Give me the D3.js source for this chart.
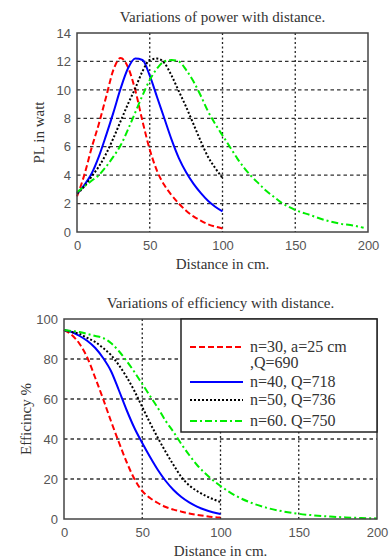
<!DOCTYPE html>
<html>
<head>
<meta charset="utf-8">
<script src="https://cdn.jsdelivr.net/npm/d3@7"></script>
<style>
  body { margin: 0; background: #fff; }
  svg { display: block; }
  .serif { font-family: "Liberation Serif", "DejaVu Serif", serif; fill: #333; }
  .tick text { font-family: "Liberation Sans", Arial, sans-serif; font-size: 13px; fill: #555; }
</style>
</head>
<body>
<svg id="chart" width="389" height="560"></svg>
<script>
// distance values (cm)
var dist100 = [0,5,10,15,20,25,30,35,40,45,50,55,60,65,70,75,80,85,90,95,100];
var dist200 = [0,5,10,15,20,25,30,35,40,45,50,55,60,65,70,75,80,85,90,95,100,
               105,110,115,120,125,130,135,140,145,150,160,170,180,190,197];
var distEff200 = [0,5,10,15,20,25,30,35,40,45,50,55,60,65,70,75,80,85,90,95,100,
                  110,120,130,140,150,160,170,180,190,200];

// power PL in watt
var powerN30 = [2.5,4.0,5.9,7.6,9.5,11.4,12.25,11.6,10.0,7.8,5.8,4.3,3.3,2.6,2.0,1.5,1.1,0.8,0.55,0.38,0.25];
var powerN40 = [2.7,3.3,4.1,5.3,6.8,8.4,10.1,11.5,12.2,12.1,11.0,9.5,8.0,6.5,5.2,4.2,3.4,2.75,2.2,1.78,1.45];
var powerN50 = [2.7,3.2,3.9,4.6,5.5,6.6,7.8,9.0,10.1,11.3,12.1,12.2,11.9,11.0,9.9,8.8,7.6,6.4,5.3,4.5,3.8];
var powerN60 = [2.8,3.2,3.6,4.0,4.6,5.3,6.1,7.2,8.4,9.6,10.7,11.5,12.0,12.1,12.0,11.4,10.6,9.6,8.5,7.6,6.8,
                6.0,5.2,4.5,3.9,3.4,2.9,2.5,2.1,1.8,1.55,1.2,0.85,0.6,0.45,0.3];

// efficiency %
var effN30 = [94.5,92,87.5,80.5,70.5,60,49,38.5,28.5,20,14,10.5,8.0,6.0,4.7,3.7,2.8,2.1,1.5,1.0,0.7];
var effN40 = [94.5,93.5,91.5,89,85.5,80.5,74,64.5,54.5,45.5,38,31,24.5,19,14.5,11,8.3,6.2,4.6,3.4,2.5];
var effN50 = [94.5,93.5,92.5,90.5,88.5,85.5,82,77,71,64,56,48,40.5,33.5,27,21,16.8,14,11.8,10,8.5];
var effN60 = [94.5,94,93.5,92.5,91.5,90.5,88,84,79,73.5,67.5,61.5,55.5,49,43.5,37.5,32,27,23,19.5,16.5,
              11.5,8,5.5,3.8,2.6,1.8,1.2,0.8,0.5,0.3];

var legendLabels = [["n=30, a=25 cm", ",Q=690"], ["n=40, Q=718"], ["n=50, Q=736"], ["n=60. Q=750"]];
var seriesColors = ["#ff0000", "#0000ff", "#000000", "#00ee00"];
var seriesDash = ["6,3", null, "2,2", "7,3,2,3"];

var xTicks = [0,50,100,150,200];
var powerTicks = [0,2,4,6,8,10,12,14];
var effTicks = [0,20,40,60,80,100];

var svg = d3.select("#chart");

function drawPanel(box, yMax, yTicks, series, title, yLabel) {
  var x = d3.scaleLinear().domain([0, 200]).range([box.left, box.right]);
  var y = d3.scaleLinear().domain([0, yMax]).range([box.bottom, box.top]);
  var g = svg.append("g");

  // grid
  g.selectAll(".gx").data(xTicks.slice(1, -1)).enter().append("line")
    .attr("x1", d => x(d)).attr("x2", d => x(d))
    .attr("y1", box.top).attr("y2", box.bottom)
    .style("stroke", "#222").style("stroke-width", 1.3).style("stroke-dasharray", "2,2.5");
  g.selectAll(".gy").data(yTicks.slice(1, -1)).enter().append("line")
    .attr("x1", box.left).attr("x2", box.right)
    .attr("y1", d => y(d)).attr("y2", d => y(d))
    .style("stroke", "#333").style("stroke-width", 1.3).style("stroke-dasharray", "3.5,3");

  // axes
  g.append("g").attr("transform", "translate(0," + box.bottom + ")")
    .call(d3.axisBottom(x).tickValues(xTicks).tickSize(0).tickPadding(9))
    .call(s => s.select(".domain").remove());
  g.append("g").attr("transform", "translate(" + box.left + ",0)")
    .call(d3.axisLeft(y).tickValues(yTicks).tickSize(0).tickPadding(6))
    .call(s => s.select(".domain").remove());

  // curves
  var line = d3.line().x(d => x(d[0])).y(d => y(d[1])).curve(d3.curveMonotoneX);
  series.forEach(function(s, i) {
    g.append("path")
      .datum(d3.zip(s.xs, s.ys))
      .attr("d", line)
      .style("fill", "none")
      .style("stroke", seriesColors[i])
      .style("stroke-width", 2)
      .style("stroke-dasharray", seriesDash[i]);
  });

  // frame
  g.append("rect")
    .attr("x", box.left).attr("y", box.top)
    .attr("width", box.right - box.left).attr("height", box.bottom - box.top)
    .style("fill", "none").style("stroke", "#444").style("stroke-width", 1.5);

  g.append("text").attr("class", "serif")
    .attr("x", (box.left + box.right) / 2).attr("y", box.top - 11)
    .attr("text-anchor", "middle").style("font-size", "15px")
    .text(title);
  g.append("text").attr("class", "serif")
    .attr("x", (box.left + box.right) / 2).attr("y", box.bottom + 37)
    .attr("text-anchor", "middle").style("font-size", "15px")
    .text("Distance in cm.");
  g.append("text").attr("class", "serif")
    .attr("transform", "translate(" + (box.left - 33) + "," + ((box.top + box.bottom) / 2) + ") rotate(-90)")
    .attr("text-anchor", "middle").style("font-size", "15px")
    .text(yLabel);
  return { x: x, y: y };
}

drawPanel({ left: 77, right: 368, top: 33, bottom: 232 }, 14, powerTicks, [
  { xs: dist100, ys: powerN30 },
  { xs: dist100, ys: powerN40 },
  { xs: dist100, ys: powerN50 },
  { xs: dist200, ys: powerN60 }
], "Variations of power with distance.", "PL in watt");

drawPanel({ left: 64, right: 377, top: 319, bottom: 519 }, 100, effTicks, [
  { xs: dist100, ys: effN30 },
  { xs: dist100, ys: effN40 },
  { xs: dist100, ys: effN50 },
  { xs: distEff200, ys: effN60 }
], "Variations of efficiency with distance.", "Efficincy %");

// legend
var leg = svg.append("g");
leg.append("rect")
  .attr("x", 181).attr("y", 319).attr("width", 196).attr("height", 113)
  .style("fill", "#fff").style("stroke", "#222").style("stroke-width", 1.5);
var legY = [347, 382, 400, 421];
legendLabels.forEach(function(lines, i) {
  leg.append("line")
    .attr("x1", 190).attr("x2", 243).attr("y1", legY[i]).attr("y2", legY[i])
    .style("stroke", seriesColors[i]).style("stroke-width", 2)
    .style("stroke-dasharray", seriesDash[i]);
  lines.forEach(function(t, j) {
    leg.append("text").attr("class", "serif")
      .attr("x", 250).attr("y", legY[i] + 5 + j * 16)
      .style("font-size", "16px")
      .text(t);
  });
});
</script>
</body>
</html>
